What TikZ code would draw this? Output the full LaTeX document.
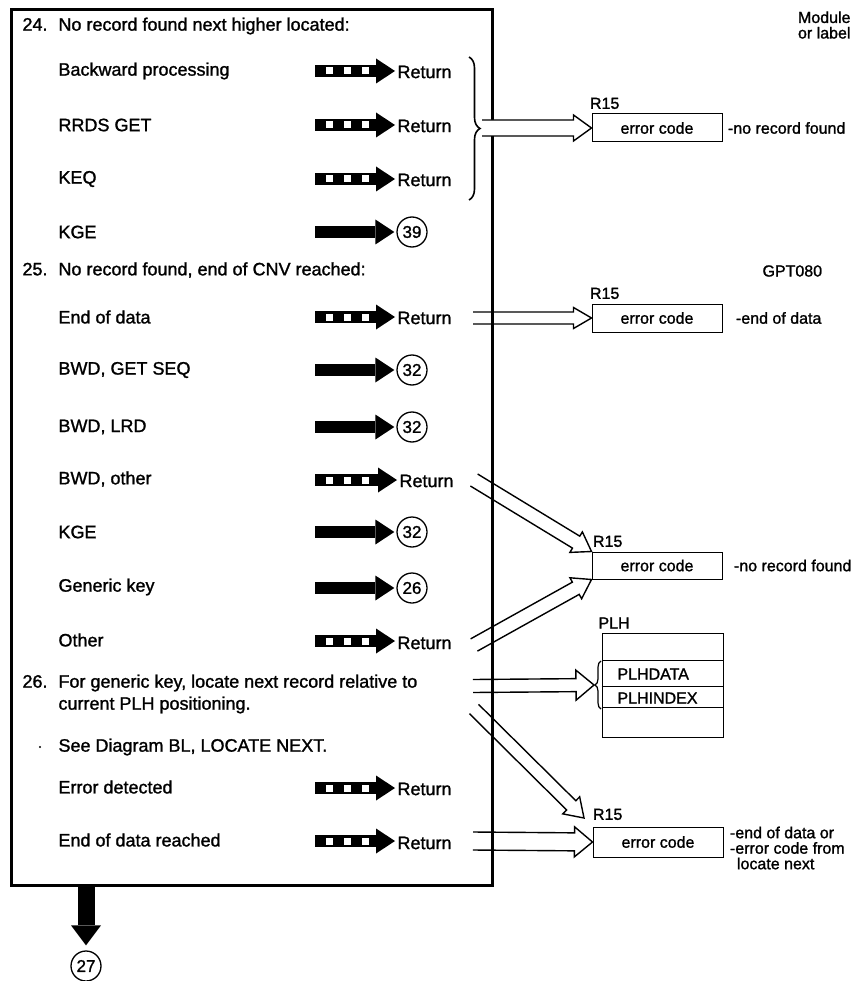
\documentclass[tikz,border=0pt]{standalone}
\usepackage{fontspec}
\setmainfont{Liberation Sans}[BoldFont={Liberation Sans},BoldFeatures={FakeBold=1.3}]
\usetikzlibrary{arrows.meta,calc,positioning,decorations.pathreplacing}

% open double-line arrow: [opts]{from}{to}{half shaft}{half head}
\newcommand{\hollowarrow}[5][]{%
  \coordinate (hb) at ($(#3)!18pt!(#2)$);
  \draw[line width=1.4pt, line join=miter, #1]
    ($(#2)!#4!90:(#3)$) -- ($(hb)!#4!-90:(#2)$) -- ($(hb)!#5!-90:(#2)$) -- (#3)
    -- ($(hb)!#5!90:(#2)$) -- ($(hb)!#4!90:(#2)$) -- ($(#2)!#4!-90:(#3)$);}

\begin{document}
\begin{tikzpicture}[x=1pt,y=-1pt,line width=1pt,
  lbl/.style={anchor=west,inner sep=0pt,font=\fontsize{18}{22}\selectfont\bfseries},
  side/.style={anchor=west,inner sep=0pt,font=\fontsize{16}{15.5}\selectfont\bfseries},
  num/.style={circle,draw,line width=1.3pt,minimum size=30pt,inner sep=0pt,font=\fontsize{17}{17}\selectfont\bfseries},
  errbox/.style={draw,minimum width=130pt,minimum height=28pt,inner sep=0pt,font=\fontsize{16}{16}\selectfont\bfseries},
  gotoarrow/.style={line width=12.5pt,-{Triangle[length=19pt,width=25pt,line width=0pt]},shorten >=2pt},
  exitarrow/.style={gotoarrow,postaction={draw=white,arrows=-,line width=7pt,
    dash pattern=on 0pt off 11pt on 7pt off 11pt on 7pt off 11pt on 7pt off 400pt}}]
\useasboundingbox (0,0) rectangle (858,981);

% ---- outer box ----
\draw[line width=3pt] (11,10) rectangle (492,885);

% ---- step 24 ----
\node[lbl] (h24) at (22,26) {\makebox[36pt][l]{24.}No record found next higher located:};
\node[lbl] (t1) at (58,71) {Backward processing};
\node[lbl] (t2) at (58,125) {RRDS GET};
\node[lbl] (t3) at (58,179) {KEQ};
\node[lbl] (t4) at (58,232) {KGE};
\node[lbl] (r1) at (397,72) {Return};
\node[lbl] (r2) at (397,126) {Return};
\node[lbl] (r3) at (397,180) {Return};
\node[num] (c39) at (412,232) {39};
\coordinate (a1) at (315,71);
\coordinate (a2) at (315,125);
\coordinate (a3) at (315,179);
\coordinate (a4) at (315,232);
\draw[exitarrow] (a1) -- (a1 -| r1.west);
\draw[exitarrow] (a2) -- (a2 -| r2.west);
\draw[exitarrow] (a3) -- (a3 -| r3.west);
\draw[gotoarrow] (a4) -- (c39);
\draw[line width=1.6pt,decorate,decoration={brace,amplitude=11pt}] (469,57) -- (469,200);
\coordinate (brtip) at (482,128);

% ---- step 25 ----
\node[lbl] (h25) at (22,270) {\makebox[36pt][l]{25.}No record found, end of CNV reached:};
\node[lbl] (t5) at (58,317) {End of data};
\node[lbl] (t6) at (58,370) {BWD, GET SEQ};
\node[lbl] (t7) at (58,427) {BWD, LRD};
\node[lbl] (t8) at (58,479) {BWD, other};
\node[lbl] (t9) at (58,532) {KGE};
\node[lbl] (t10) at (58,587) {Generic key};
\node[lbl] (t11) at (58,640) {Other};
\node[lbl] (r5) at (397,318) {Return};
\node[lbl] (r8) at (399,481) {Return};
\node[lbl] (r11) at (397,643) {Return};
\node[num] (c32a) at (412,370) {32};
\node[num] (c32b) at (412,427) {32};
\node[num] (c32c) at (412,532) {32};
\node[num] (c26) at (412,588) {26};
\coordinate (a5) at (315,317);
\coordinate (a6) at (315,370);
\coordinate (a7) at (315,427);
\coordinate (a8) at (315,480);
\coordinate (a9) at (315,532);
\coordinate (a10) at (315,588);
\coordinate (a11) at (315,641);
\draw[exitarrow] (a5) -- (a5 -| r5.west);
\draw[gotoarrow] (a6) -- (c32a);
\draw[gotoarrow] (a7) -- (c32b);
\draw[exitarrow] (a8) -- (a8 -| r8.west);
\draw[gotoarrow] (a9) -- (c32c);
\draw[gotoarrow] (a10) -- (c26);
\draw[exitarrow] (a11) -- (a11 -| r11.west);

% ---- step 26 ----
\node[lbl,align=left] (h26) at (22,694) {\makebox[36pt][l]{26.}For generic key, locate next record relative to\\\hspace*{36pt}current PLH positioning.};
\fill (40,747) circle[radius=1.2pt];
\node[lbl] (t12) at (58,747) {See Diagram BL, LOCATE NEXT.};
\node[lbl] (t13) at (58,787) {Error detected};
\node[lbl] (t14) at (58,840) {End of data reached};
\node[lbl] (r13) at (397,789) {Return};
\node[lbl] (r14) at (397,843) {Return};
\coordinate (a13) at (315,788);
\coordinate (a14) at (315,841);
\draw[exitarrow] (a13) -- (a13 -| r13.west);
\draw[exitarrow] (a14) -- (a14 -| r14.west);

% ---- exit to 27 ----
\coordinate (bot) at (86,885);
\node[num] (c27) at (86,966) {27};
\draw[line width=17pt,-{Triangle[length=20pt,width=30pt,line width=0pt]},shorten >=5pt] (bot) -- (c27.north);

% ---- register / control block side ----
\node[side,anchor=east,align=right] (modlbl) at (851,25) {Module\\or label};
\node[side] (gpt) at (762,271) {GPT080};

\node[errbox] (e1) at (657,128) {error code};
\node[side,anchor=south west,xshift=-2pt,yshift=4pt] at (e1.north west) {R15};
\node[side,right=5pt of e1] {-no record found};
\hollowarrow[fill=white]{brtip}{e1.west}{8pt}{13pt}

\node[errbox] (e2) at (657,318) {error code};
\node[side,anchor=south west,xshift=-2pt,yshift=4pt] at (e2.north west) {R15};
\node[side,right=13pt of e2] {-end of data};
\coordinate (s2) at (473,318);
\hollowarrow{s2}{e2.west}{6pt}{10.5pt}

\node[errbox,minimum height=27pt] (e3) at (657,565.5) {error code};
\node[side,anchor=south west,xshift=1pt,yshift=4pt] at (e3.north west) {R15};
\node[side,right=11pt of e3] {-no record found};
\coordinate (s3) at (474,480);
\coordinate (s4) at (474,645);
\hollowarrow{s3}{e3.north west}{7pt}{12pt}
\hollowarrow{s4}{e3.south west}{7pt}{12pt}

\node[side] (plhlbl) at (598,623) {PLH};
\node[draw,minimum width=121pt,minimum height=104pt,inner sep=0pt] (plh) at (662.5,685) {};
\draw (plh.north west) ++(0,28) -- ++(121,0);
\draw (plh.north west) ++(0,54) -- ++(121,0);
\draw (plh.north west) ++(0,75) -- ++(121,0);
\node[side] (plhdata) at (617,674) {PLHDATA};
\node[side] (plhindex) at (617,698) {PLHINDEX};
\draw[line width=1.2pt,decorate,decoration={brace,amplitude=6pt}] (601,709) -- (601,661);
\coordinate (plhtip) at (594,685);
\coordinate (s5) at (473,686);
\hollowarrow{s5}{plhtip}{6.5pt}{15pt}

\node[errbox,minimum height=30pt] (e4) at (658,842) {error code};
\node[side,anchor=south west,xshift=0pt,yshift=6pt] at (e4.north west) {R15};
\node[side,align=left,right=6pt of e4,yshift=-6pt] {-end of data or\\-error code from\\\hspace*{7pt}locate next};
\coordinate (s6) at (474,709);
\coordinate (t6tip) at (584,818);
\coordinate (s7) at (473,841);
\hollowarrow{s6}{t6tip}{6.5pt}{12pt}
\hollowarrow{s7}{e4.west}{9pt}{15pt}
\end{tikzpicture}
\end{document}
